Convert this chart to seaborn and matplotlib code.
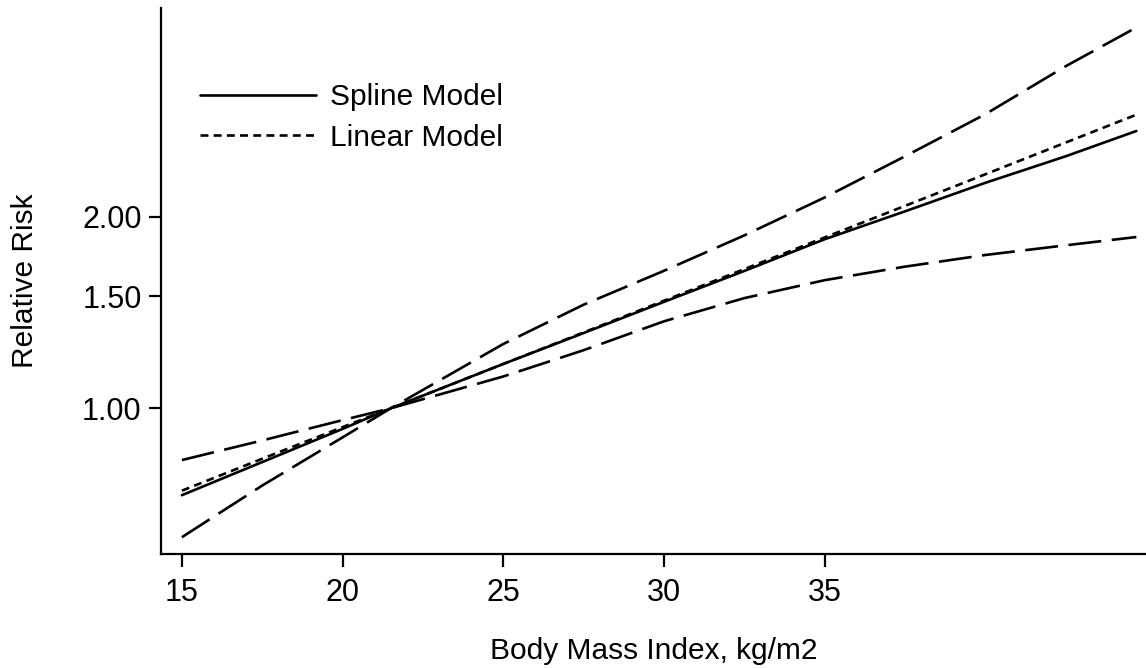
import matplotlib
matplotlib.use("Agg")
import matplotlib.pyplot as plt
import seaborn as sns
import pandas as pd

# Data
bmi = [15, 17.5, 20, 21.5, 25, 27.5, 30, 32.5, 35, 37.5, 40, 42.5, 44.7]
spline_rr = [0.730, 0.823, 0.928, 1.0, 1.174, 1.313, 1.470, 1.644, 1.844, 2.040, 2.262, 2.490, 2.729]
linear_rr = [0.742, 0.833, 0.934, 1.0, 1.174, 1.316, 1.476, 1.655, 1.856, 2.081, 2.333, 2.617, 2.895]
ci_upper = [0.627, 0.756, 0.900, 1.0, 1.262, 1.455, 1.645, 1.870, 2.145, 2.490, 2.900, 3.450, 3.970]
ci_lower = [0.829, 0.890, 0.958, 1.0, 1.122, 1.234, 1.370, 1.490, 1.590, 1.670, 1.742, 1.804, 1.859]

x_ticks = [15, 20, 25, 30, 35]
y_ticks = [1.0, 1.5, 2.0]
y_tick_labels = ["1.00", "1.50", "2.00"]

sns.set_theme(style="ticks")
plt.rcParams["font.family"] = ["Liberation Sans", "DejaVu Sans"]
plt.rcParams["text.color"] = "black"
plt.rcParams["axes.labelcolor"] = "black"

df = pd.DataFrame({"bmi": bmi, "spline": spline_rr, "linear": linear_rr,
                   "upper": ci_upper, "lower": ci_lower})

fig = plt.figure(figsize=(11.46, 6.68), dpi=100)
ax = fig.add_axes([161 / 1146, 114 / 668, 985 / 1146, 546 / 668])

LW = 1.9
sns.lineplot(data=df, x="bmi", y="upper", ax=ax, color="black", lw=LW,
             errorbar=None, linestyle=(0, (12.5, 4)))
sns.lineplot(data=df, x="bmi", y="lower", ax=ax, color="black", lw=LW,
             errorbar=None, linestyle=(0, (12.5, 4)))
sns.lineplot(data=df, x="bmi", y="linear", ax=ax, color="black", lw=LW,
             errorbar=None, linestyle=(0, (3.0, 2.0)), label="Linear Model")
sns.lineplot(data=df, x="bmi", y="spline", ax=ax, color="black", lw=LW,
             errorbar=None, linestyle="-", label="Spline Model")

ax.set_yscale("log")
ax.set_xlim(14.35, 45.0)
ax.set_ylim(0.590, 4.26)
ax.set_xticks(x_ticks)
ax.set_xticklabels([str(t) for t in x_ticks])
ax.set_yticks(y_ticks)
ax.set_yticklabels(y_tick_labels)
ax.yaxis.set_minor_locator(matplotlib.ticker.NullLocator())

for s in ["top", "right"]:
    ax.spines[s].set_visible(False)
for s in ["left", "bottom"]:
    ax.spines[s].set_color("black")
    ax.spines[s].set_linewidth(1.6)

ax.tick_params(axis="both", which="major", direction="out", length=9, width=1.6,
               color="black", labelsize=22, labelcolor="black")
ax.tick_params(axis="x", pad=8)
ax.tick_params(axis="y", pad=5)
ax.set_xlabel("Body Mass Index, kg/m2", fontsize=21.5, color="black", labelpad=21)
ax.set_ylabel("Relative Risk", fontsize=21.5, color="black", labelpad=31)

handles, labels = ax.get_legend_handles_labels()
order = [labels.index("Spline Model"), labels.index("Linear Model")]
leg = ax.legend([handles[i] for i in order], [labels[i] for i in order],
                loc="upper left", bbox_to_anchor=(0.0396, 0.862), frameon=False,
                fontsize=21.5, handlelength=3.9, handletextpad=0.45,
                labelspacing=0.42, borderpad=0, borderaxespad=0)
for t in leg.get_texts():
    t.set_color("black")

fig.savefig("out.png", dpi=100, facecolor="white")
